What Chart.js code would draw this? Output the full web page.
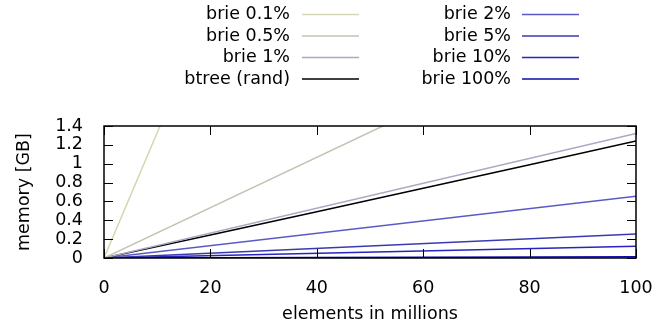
<!DOCTYPE html>
<html>
<head>
<meta charset="utf-8">
<script src="https://cdn.jsdelivr.net/npm/chart.js@4"></script>
<style>
  html, body { margin: 0; padding: 0; background: #fff; }
  #wrap { width: 668px; height: 325px; }
</style>
</head>
<body>
<div id="wrap"><canvas id="chart" width="668" height="325"></canvas></div>
<script>
// elements in millions
const xs = [0, 100];
const brie01 = [0, 13.3];
const brie05 = [0, 2.67];
const brie1 = [0, 1.32];
const btreeX = [0, 20, 40, 60, 80, 100];
const btree = [0, 0.245, 0.49, 0.74, 0.99, 1.24];
const brie2 = [0, 0.655];
const brie5 = [0, 0.255];
const brie10 = [0, 0.125];
const brie100 = [0, 0.012];

const xTicks = [0, 20, 40, 60, 80, 100];
const yTicks = [0, 0.2, 0.4, 0.6, 0.8, 1, 1.2, 1.4];

const FONT_SIZE = 17.5;
const FONT = FONT_SIZE + 'px "DejaVu Sans"';

function pts(xv, yv) {
    return xv.map((x, i) => ({x: x, y: yv[i]}));
}

const series = [
    {label: 'brie 0.1%', data: pts(xs, brie01), color: '#d6d6b4', col: 0},
    {label: 'brie 0.5%', data: pts(xs, brie05), color: '#c2c2b2', col: 0},
    {label: 'brie 1%', data: pts(xs, brie1), color: '#a9a9c4', col: 0},
    {label: 'btree (rand)', data: pts(btreeX, btree), color: '#000000', col: 0},
    {label: 'brie 2%', data: pts(xs, brie2), color: '#5a5ac6', col: 1},
    {label: 'brie 5%', data: pts(xs, brie5), color: '#3a3ab0', col: 1},
    {label: 'brie 10%', data: pts(xs, brie10), color: '#2626bc', col: 1},
    {label: 'brie 100%', data: pts(xs, brie100), color: '#0c0ca8', col: 1}
];

// gnuplot-like frame, inward ticks, legend and axis labels
const gnuplotLook = {
    id: 'gnuplotLook',
    afterDraw(chart) {
        const ctx = chart.ctx;
        const a = chart.chartArea;
        const xs_ = chart.scales.x, ys_ = chart.scales.y;
        const tl = 9;
        ctx.save();
        ctx.strokeStyle = '#000';
        ctx.lineWidth = 1;
        ctx.beginPath();
        xTicks.forEach(v => {
            const px = Math.round(xs_.getPixelForValue(v)) + 0.5;
            ctx.moveTo(px, a.bottom); ctx.lineTo(px, a.bottom - tl);
            ctx.moveTo(px, a.top); ctx.lineTo(px, a.top + tl);
        });
        yTicks.forEach(v => {
            const py = Math.round(ys_.getPixelForValue(v)) + 0.5;
            ctx.moveTo(a.left, py); ctx.lineTo(a.left + tl, py);
            ctx.moveTo(a.right, py); ctx.lineTo(a.right - tl, py);
        });
        ctx.stroke();
        ctx.lineWidth = 1.5;
        ctx.strokeRect(a.left, a.top, a.right - a.left, a.bottom - a.top);

        // legend
        ctx.font = FONT;
        ctx.fillStyle = '#000';
        ctx.textAlign = 'right';
        ctx.textBaseline = 'middle';
        const colText = [290, 511];
        const colLine = [[302, 359], [522, 579]];
        const rowY = [14.5, 36, 57.5, 79];
        const rowIdx = [0, 0];
        series.forEach(s => {
            const r = rowIdx[s.col]++;
            const y = rowY[r];
            ctx.fillText(s.label, colText[s.col], y);
            ctx.strokeStyle = s.color;
            ctx.lineWidth = 1.5;
            ctx.beginPath();
            ctx.moveTo(colLine[s.col][0], y);
            ctx.lineTo(colLine[s.col][1], y);
            ctx.stroke();
        });

        // axis labels
        ctx.textAlign = 'center';
        ctx.fillText('elements in millions', 370, 314);
        ctx.translate(24, 192);
        ctx.rotate(-Math.PI / 2);
        ctx.fillText('memory [GB]', 0, 0);
        ctx.restore();
    }
};

const ctx = document.getElementById('chart').getContext('2d');
const chart = new Chart(ctx, {
    type: 'line',
    data: {
        datasets: series.map(s => ({
            label: s.label,
            data: s.data,
            borderColor: s.color,
            borderWidth: 1.5,
            pointRadius: 0,
            fill: false,
            tension: 0
        }))
    },
    options: {
        responsive: false,
        animation: false,
        layout: {padding: {left: 0, right: 32, top: 126, bottom: 0}},
        plugins: {
            legend: {display: false},
            tooltip: {enabled: false}
        },
        scales: {
            x: {
                type: 'linear',
                min: 0,
                max: 100,
                afterBuildTicks: axis => { axis.ticks = xTicks.map(v => ({value: v})); },
                afterFit: axis => { axis.height = 67; },
                grid: {display: false},
                border: {display: false},
                ticks: {
                    color: '#000',
                    font: {family: 'DejaVu Sans', size: FONT_SIZE},
                    padding: 12,
                    maxRotation: 0,
                    autoSkip: false
                }
            },
            y: {
                type: 'linear',
                min: 0,
                max: 1.4,
                afterBuildTicks: axis => { axis.ticks = yTicks.map(v => ({value: v})); },
                afterFit: axis => { axis.width = 104; },
                grid: {display: false},
                border: {display: false},
                ticks: {
                    color: '#000',
                    font: {family: 'DejaVu Sans', size: FONT_SIZE},
                    padding: 13,
                    autoSkip: false,
                    callback: v => String(Math.round(v * 10) / 10)
                }
            }
        }
    },
    plugins: [gnuplotLook]
});
</script>
</body>
</html>
